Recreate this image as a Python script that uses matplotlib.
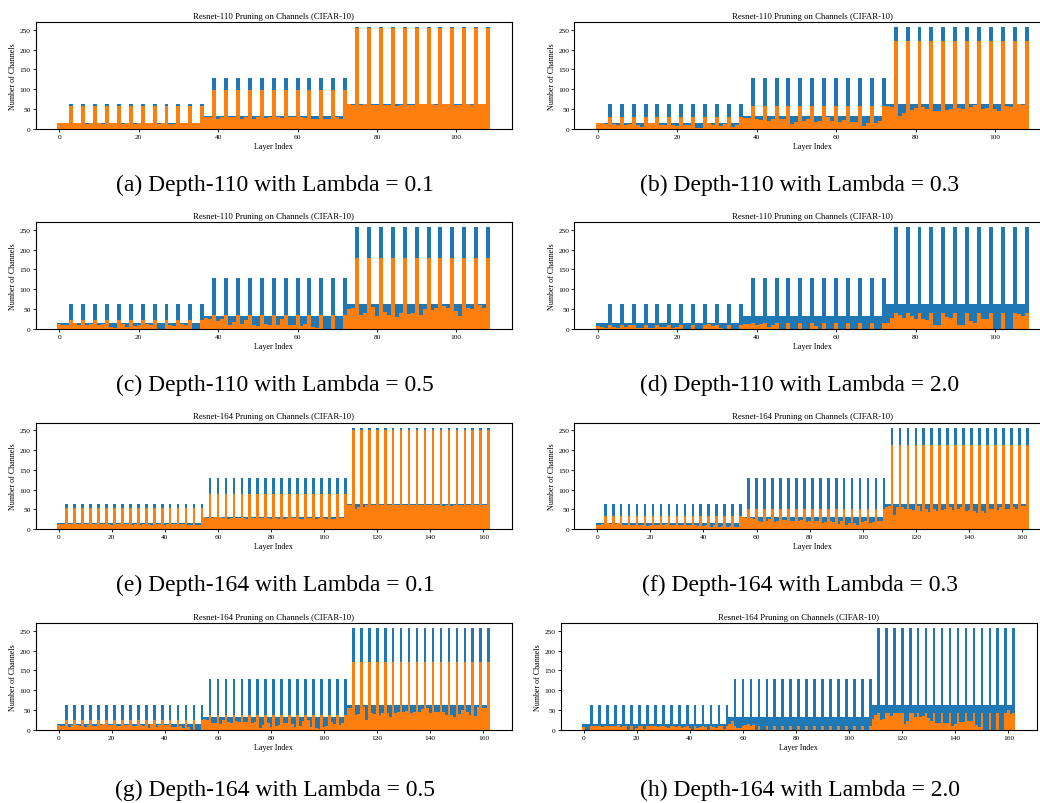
import matplotlib
matplotlib.use("Agg")
import matplotlib.pyplot as plt

plt.rcParams["font.family"] = ["Liberation Serif", "DejaVu Serif"]

# original channel counts per bottleneck block in each stage
stage_blocks = [[16, 16, 64], [32, 32, 128], [64, 64, 256]]
first_conv = 16


def original_channels(n_blocks):
    chans = [first_conv]
    for blk in stage_blocks:
        chans += blk * n_blocks
    return chans


orig_110 = original_channels(12)
orig_164 = original_channels(18)

# remaining channels after pruning
pruned_110_l01 = ([15]
    + [15, 16, 57, 15, 15, 57, 12, 15, 57, 15, 12, 57, 15, 15, 57, 12, 15, 57,
       12, 15, 57, 15, 15, 57, 13, 14, 57, 12, 12, 57, 15, 15, 57, 15, 15, 57]
    + [30, 30, 97, 25, 30, 97, 30, 30, 97, 25, 30, 97, 26, 30, 97, 27, 30, 97,
       30, 28, 97, 30, 30, 97, 30, 28, 97, 25, 25, 97, 25, 25, 97, 30, 25, 97]
    + [63, 61, 253, 60, 63, 253, 60, 60, 253, 60, 60, 253, 57, 60, 253, 60, 60, 253,
       62, 62, 253, 62, 60, 253, 62, 62, 253, 60, 60, 253, 63, 61, 253, 62, 62, 253])

pruned_110_l03 = ([15]
    + [14, 12, 30, 12, 10, 30, 10, 12, 30, 10, 5, 30, 16, 15, 30, 10, 10, 30,
       10, 8, 30, 10, 10, 30, 2, 2, 30, 16, 10, 30, 7, 12, 30, 5, 10, 30]
    + [28, 27, 57, 25, 22, 57, 20, 25, 57, 25, 25, 57, 12, 17, 57, 20, 25, 57,
       17, 20, 57, 30, 20, 57, 17, 22, 57, 17, 17, 57, 7, 15, 57, 15, 20, 57]
    + [57, 55, 222, 32, 40, 222, 47, 52, 222, 55, 50, 222, 45, 45, 222, 47, 50, 222,
       52, 50, 222, 55, 60, 222, 50, 52, 222, 50, 45, 222, 57, 55, 222, 62, 60, 222])

pruned_110_l05 = ([13]
    + [11, 9, 23, 15, 9, 23, 9, 12, 23, 11, 12, 23, 6, 3, 23, 13, 6, 23,
       7, 9, 23, 13, 9, 23, 0, 0, 23, 9, 7, 23, 12, 9, 23, 0, 0, 23]
    + [28, 24, 35, 21, 26, 35, 10, 17, 35, 13, 22, 35, 11, 8, 35, 13, 11, 35,
       11, 25, 35, 11, 11, 35, 8, 13, 35, 5, 2, 35, 0, 0, 35, 0, 0, 35]
    + [50, 53, 178, 35, 40, 178, 56, 33, 178, 43, 36, 178, 30, 40, 178, 38, 40, 178,
       35, 51, 178, 48, 53, 178, 57, 53, 178, 45, 33, 178, 53, 51, 178, 61, 53, 178])

pruned_110_l20 = ([7]
    + [5, 3, 10, 5, 3, 10, 6, 10, 10, 3, 3, 10, 3, 3, 10, 6, 6, 10,
       3, 5, 10, 0, 0, 10, 0, 0, 10, 12, 8, 10, 3, 0, 10, 0, 0, 10]
    + [12, 12, 15, 10, 12, 15, 6, 10, 15, 0, 0, 15, 0, 0, 15, 0, 0, 15,
       8, 0, 15, 0, 0, 15, 0, 0, 15, 0, 0, 15, 0, 0, 15, 0, 0, 15]
    + [15, 27, 40, 35, 28, 40, 33, 25, 40, 25, 22, 40, 10, 10, 40, 30, 28, 40,
       10, 10, 40, 20, 15, 40, 25, 25, 40, 0, 0, 40, 0, 0, 40, 37, 33, 40])

pruned_164_l01 = ([13]
    + [14, 14, 53, 14, 13, 53, 13, 14, 53, 14, 14, 53, 14, 14, 53, 14, 14, 53,
       14, 12, 53, 13, 14, 53, 14, 14, 53, 12, 14, 53, 11, 13, 53, 14, 12, 53,
       14, 13, 53, 12, 14, 53, 14, 14, 53, 13, 13, 53, 12, 11, 53, 11, 11, 53]
    + [30, 28, 89, 28, 30, 89, 30, 28, 89, 25, 28, 89, 28, 28, 89, 28, 25, 89,
       28, 28, 89, 28, 28, 89, 28, 27, 89, 28, 26, 89, 25, 28, 89, 28, 28, 89,
       26, 25, 89, 28, 28, 89, 25, 28, 89, 28, 25, 89, 27, 25, 89, 28, 28, 89]
    + [62, 62, 250, 52, 57, 250, 57, 60, 250, 60, 60, 250, 60, 60, 250, 60, 62, 250,
       62, 60, 250, 60, 62, 250, 60, 60, 250, 62, 62, 250, 60, 60, 250, 62, 62, 250,
       58, 60, 250, 58, 60, 250, 60, 60, 250, 60, 62, 250, 60, 60, 250, 60, 60, 250])

pruned_164_l03 = ([12]
    + [11, 14, 33, 15, 14, 33, 14, 15, 33, 12, 12, 33, 10, 10, 33, 12, 12, 33,
       9, 10, 33, 12, 12, 33, 12, 13, 33, 10, 10, 33, 12, 10, 33, 10, 12, 33,
       10, 9, 33, 8, 10, 33, 6, 12, 33, 7, 8, 33, 5, 8, 33, 6, 6, 33]
    + [32, 28, 51, 28, 25, 51, 22, 18, 51, 20, 25, 51, 18, 22, 51, 24, 24, 51,
       20, 22, 51, 22, 24, 51, 18, 20, 51, 22, 20, 51, 16, 18, 51, 20, 18, 51,
       14, 20, 51, 12, 15, 51, 16, 12, 51, 18, 20, 51, 15, 18, 51, 20, 22, 51]
    + [55, 58, 212, 37, 55, 212, 57, 52, 212, 52, 48, 212, 58, 45, 212, 50, 44, 212,
       50, 47, 212, 48, 50, 212, 55, 49, 212, 50, 55, 212, 47, 48, 212, 45, 42, 212,
       47, 42, 212, 52, 50, 212, 48, 55, 212, 50, 50, 212, 56, 52, 212, 58, 58, 212])

pruned_164_l05 = ([13]
    + [10, 10, 25, 8, 12, 25, 12, 10, 25, 8, 12, 25, 10, 10, 25, 12, 14, 25,
       12, 12, 25, 10, 10, 25, 13, 12, 25, 10, 10, 25, 13, 10, 25, 5, 15, 25,
       8, 12, 25, 12, 12, 25, 8, 8, 25, 10, 5, 25, 8, 0, 25, 0, 0, 25]
    + [28, 25, 39, 18, 18, 39, 15, 25, 39, 20, 18, 39, 22, 20, 39, 20, 20, 39,
       18, 20, 39, 5, 12, 39, 18, 8, 39, 10, 12, 39, 18, 18, 39, 15, 8, 39,
       10, 22, 39, 25, 8, 39, 5, 3, 39, 8, 10, 39, 20, 15, 39, 13, 18, 39]
    + [55, 55, 170, 38, 40, 170, 58, 25, 170, 43, 40, 170, 38, 42, 170, 44, 33, 170,
       43, 45, 170, 45, 47, 170, 42, 45, 170, 45, 52, 170, 55, 43, 170, 45, 46, 170,
       45, 38, 170, 38, 32, 170, 40, 50, 170, 45, 38, 170, 35, 57, 170, 55, 55, 170])

pruned_164_l20 = ([7]
    + [0, 0, 10, 10, 10, 10, 8, 10, 10, 10, 10, 10, 12, 8, 10, 10, 0, 10,
       0, 5, 10, 10, 3, 10, 10, 10, 10, 8, 10, 10, 8, 5, 10, 10, 8, 10,
       5, 8, 10, 5, 0, 10, 5, 8, 10, 8, 0, 10, 8, 5, 10, 10, 3, 10]
    + [15, 22, 10, 5, 5, 10, 12, 14, 10, 12, 0, 10, 0, 0, 10, 0, 0, 10,
       0, 0, 10, 0, 0, 10, 0, 0, 10, 0, 0, 10, 0, 0, 10, 0, 0, 10,
       0, 0, 10, 0, 0, 10, 0, 0, 10, 0, 0, 10, 0, 0, 10, 0, 0, 10]
    + [28, 38, 42, 25, 28, 42, 42, 35, 42, 42, 42, 42, 15, 22, 42, 42, 33, 42,
       33, 35, 42, 30, 22, 42, 18, 18, 42, 17, 17, 42, 10, 15, 42, 20, 20, 42,
       22, 22, 42, 12, 8, 42, 0, 0, 42, 0, 0, 42, 0, 0, 42, 50, 40, 42])

panels = [
    ("110", orig_110, pruned_110_l01, "(a) Depth-110 with Lambda = 0.1"),
    ("110", orig_110, pruned_110_l03, "(b) Depth-110 with Lambda = 0.3"),
    ("110", orig_110, pruned_110_l05, "(c) Depth-110 with Lambda = 0.5"),
    ("110", orig_110, pruned_110_l20, "(d) Depth-110 with Lambda = 2.0"),
    ("164", orig_164, pruned_164_l01, "(e) Depth-164 with Lambda = 0.1"),
    ("164", orig_164, pruned_164_l03, "(f) Depth-164 with Lambda = 0.3"),
    ("164", orig_164, pruned_164_l05, "(g) Depth-164 with Lambda = 0.5"),
    ("164", orig_164, pruned_164_l20, "(h) Depth-164 with Lambda = 2.0"),
]

W, H = 1040, 804
fig = plt.figure(figsize=(W / 100, H / 100), dpi=100)

lefts = [35.7, 574.3, 35.7, 574.3, 35.7, 574.3, 35.7, 560.7]
row_bottoms = [130, 330, 530.3, 731]
cap_y = [185, 385, 585, 790]
cap_x = [275, 800]
ax_w, ax_h = 476, 106.8

for i, (depth, orig, pruned, caption) in enumerate(panels):
    row, col = divmod(i, 2)
    ax = fig.add_axes([lefts[i] / W, 1 - row_bottoms[row] / H, ax_w / W, ax_h / H])
    idx = list(range(len(orig)))
    ax.bar(idx, orig, width=1.0, color="#1f77b4")
    ax.bar(idx, pruned, width=1.0, color="#ff7f0e")
    ax.set_title(f"Resnet-{depth} Pruning on Channels (CIFAR-10)", fontsize=6.3, pad=3)
    ax.set_xlabel("Layer Index", fontsize=5.8, labelpad=2)
    ax.set_ylabel("Number of Channels", fontsize=5.8, labelpad=2)
    ax.set_yticks([0, 50, 100, 150, 200, 250])
    ax.tick_params(labelsize=5.3, length=2, width=0.6, pad=1.5)
    for sp in ax.spines.values():
        sp.set_linewidth(0.8)
    fig.text(cap_x[col] / W, 1 - cap_y[row] / H, caption, fontsize=17,
             ha="center", va="center")

fig.savefig("out.png", dpi=100)
